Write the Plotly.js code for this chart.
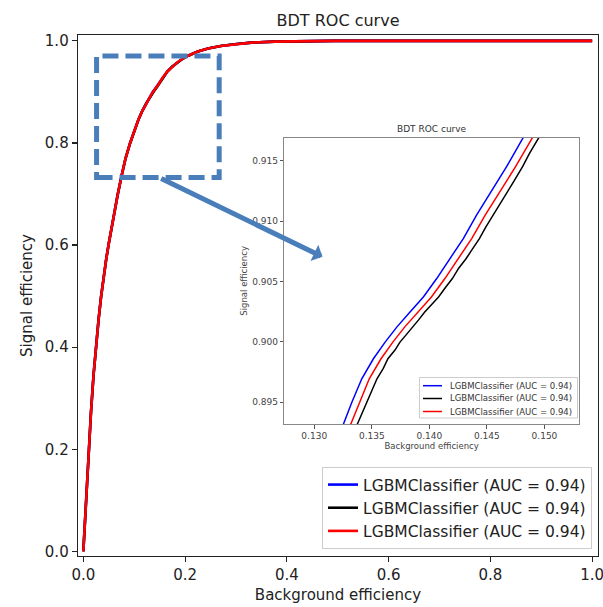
<!DOCTYPE html>
<html>
<head>
<meta charset="utf-8">
<script src="https://cdn.plot.ly/plotly-3.0.1.min.js"></script>
<style>html,body{margin:0;padding:0;background:#fff;}#chart{width:603px;height:607px;}</style>
</head>
<body>
<div id="chart"></div>
<script>
// ---- data ----
const seriesNames = ["LGBMClassifier (AUC = 0.94)", "LGBMClassifier (AUC = 0.94)", "LGBMClassifier (AUC = 0.94)"];
const seriesColors = ["#0000ff", "#000000", "#ff0000"];

// shared low part of the ROC curve (background efficiency, signal efficiency)
const headX = [0, 0.0025, 0.005, 0.0075, 0.010, 0.015, 0.020, 0.025, 0.030, 0.035, 0.040, 0.045, 0.050, 0.055, 0.060, 0.067, 0.075, 0.083, 0.092, 0.100, 0.108, 0.116, 0.124];
const headY = [0, 0.050, 0.100, 0.147, 0.192, 0.272, 0.345, 0.403, 0.455, 0.500, 0.540, 0.573, 0.603, 0.632, 0.658, 0.696, 0.735, 0.770, 0.800, 0.824, 0.845, 0.863, 0.8785];
// shared high part of the ROC curve
const tailX = [0.155, 0.165, 0.175, 0.185, 0.195, 0.206, 0.225, 0.245, 0.270, 0.297, 0.330, 0.376, 0.430, 0.493, 0.600, 0.800, 1.000];
const tailY = [0.927, 0.940, 0.950, 0.958, 0.965, 0.971, 0.979, 0.985, 0.990, 0.9935, 0.9965, 0.9985, 0.9995, 1.000, 1.000, 1.000, 1.000];

// zoomed segment for each classifier
const blueZoomX = [0.13254, 0.13327, 0.13413, 0.13514, 0.13616, 0.13717, 0.13832, 0.13948, 0.14064, 0.14179, 0.14295, 0.14410, 0.14526, 0.14671, 0.14815];
const blueZoomY = [0.89320, 0.89500, 0.89694, 0.89860, 0.89998, 0.90122, 0.90247, 0.90371, 0.90524, 0.90690, 0.90855, 0.91049, 0.91229, 0.91450, 0.91691];
const blackZoomX = [0.13375, 0.13420, 0.13455, 0.13500, 0.13545, 0.13600, 0.13640, 0.13700, 0.13745, 0.13800, 0.13850, 0.13905, 0.13960, 0.14020, 0.14080, 0.14140, 0.14200, 0.14255, 0.14320, 0.14375, 0.14435, 0.14490, 0.14555, 0.14610, 0.14670, 0.14735, 0.14810, 0.14870, 0.14951];
const blackZoomY = [0.89320, 0.89420, 0.89500, 0.89600, 0.89694, 0.89780, 0.89860, 0.89930, 0.89998, 0.90060, 0.90122, 0.90180, 0.90247, 0.90310, 0.90371, 0.90450, 0.90524, 0.90610, 0.90690, 0.90770, 0.90855, 0.90950, 0.91049, 0.91140, 0.91229, 0.91330, 0.91450, 0.91560, 0.91691];
const redZoomX = [0.13318, 0.13392, 0.13478, 0.13580, 0.13683, 0.13785, 0.13901, 0.14018, 0.14135, 0.14251, 0.14368, 0.14485, 0.14602, 0.14749, 0.14896];
const redZoomY = [0.89320, 0.89500, 0.89694, 0.89860, 0.89998, 0.90122, 0.90247, 0.90371, 0.90524, 0.90690, 0.90855, 0.91049, 0.91229, 0.91450, 0.91691];

const mainTicks = [0, 0.2, 0.4, 0.6, 0.8, 1.0];
const insetXTicks = [0.130, 0.135, 0.140, 0.145, 0.150];
const insetYTicks = [0.895, 0.900, 0.905, 0.910, 0.915];

// zoom box and arrow (in main-axis data units)
const zoomBox = {x0: 0.026, x1: 0.267, y0: 0.7323, y1: 0.9706};
const arrowFrom = [0.150, 0.7317];
const arrowTo = [0.470, 0.577];

// ---- build ----
const zoomX = [blueZoomX, blackZoomX, redZoomX];
const zoomY = [blueZoomY, blackZoomY, redZoomY];
const fullX = zoomX.map(z => headX.concat(z, tailX));
const fullY = zoomY.map(z => headY.concat(z, tailY));

const FONT = "DejaVu Sans, sans-serif";
const traces = [];
for (let i = 0; i < 3; i++) {
  traces.push({x: fullX[i], y: fullY[i], type: "scatter", mode: "lines",
    name: seriesNames[i], line: {color: seriesColors[i], width: 2.6},
    xaxis: "x", yaxis: "y", legend: "legend", hoverinfo: "skip"});
}
for (let i = 0; i < 3; i++) {
  traces.push({x: fullX[i], y: fullY[i], type: "scatter", mode: "lines",
    name: seriesNames[i], line: {color: seriesColors[i], width: 1.5},
    xaxis: "x2", yaxis: "y2", showlegend: false, hoverinfo: "skip"});
}

const W = 603, H = 607;
const L = 78, R = 5, T = 35, B = 51;
const pw = W - L - R, ph = H - T - B;
const px = v => (v - L) / pw;
const py = v => (H - B - v) / ph;

const shapes = [{type: "rect", xref: "x", yref: "y", x0: zoomBox.x0, x1: zoomBox.x1, y0: zoomBox.y0, y1: zoomBox.y1,
  line: {color: "#4a7ebb", width: 5, dash: "16px,7px"}, fillcolor: "rgba(0,0,0,0)"}];
const annotations = [
  {xref: "x", yref: "y", axref: "x", ayref: "y", x: arrowTo[0], y: arrowTo[1], ax: arrowFrom[0], ay: arrowFrom[1],
    text: "", showarrow: true, arrowhead: 1, arrowsize: 0.6, arrowwidth: 5, arrowcolor: "#4a7ebb", standoff: 0},
  {xref: "paper", yref: "paper", x: (px(284.3) + px(579)) / 2, y: py(129), text: "BDT ROC curve",
    showarrow: false, font: {size: 9, family: FONT, color: "#333"}, xanchor: "center", yanchor: "middle"}
];

// inset legend (compact, matplotlib-like)
shapes.push({type: "rect", xref: "paper", yref: "paper", x0: px(419.5), x1: px(577.5), y0: py(418), y1: py(377.5),
  line: {color: "#cccccc", width: 1}, fillcolor: "rgba(255,255,255,0.85)", layer: "above"});
const rowY = [385.7, 398.5, 411.5];
for (let i = 0; i < 3; i++) {
  shapes.push({type: "line", xref: "paper", yref: "paper", x0: px(423), x1: px(442), y0: py(rowY[i]), y1: py(rowY[i]),
    line: {color: seriesColors[i], width: 1.5}, layer: "above"});
  annotations.push({xref: "paper", yref: "paper", x: px(447.5), y: py(rowY[i]), text: seriesNames[i],
    showarrow: false, xanchor: "left", yanchor: "middle", font: {size: 8.5, family: FONT, color: "#333"}});
}

const layout = {
  width: W, height: H,
  margin: {l: L, r: R, t: T, b: B, pad: 0},
  paper_bgcolor: "#ffffff", plot_bgcolor: "#ffffff",
  font: {family: FONT, color: "#222222"},
  title: {text: "BDT ROC curve", font: {family: FONT, size: 16, color: "#222222"},
    x: 0.5, xref: "paper", y: 1 - 20 / H, yref: "container", yanchor: "middle"},
  showlegend: true,
  xaxis: {domain: [0, 1], range: [-0.0105, 1.0115], tickvals: mainTicks, tickformat: ".1f",
    ticks: "outside", ticklen: 5, tickwidth: 1.2, tickcolor: "#222", ticklabeloverflow: "allow",
    showline: true, mirror: true, linecolor: "#222", linewidth: 1.3,
    showgrid: false, zeroline: false, tickfont: {size: 15, family: FONT, color: "#222"},
    title: {text: "Background efficiency", font: {size: 15, family: FONT, color: "#222"}, standoff: 6}},
  yaxis: {domain: [0, 1], range: [-0.009, 1.0115], tickvals: mainTicks, tickformat: ".1f",
    ticks: "outside", ticklen: 5, tickwidth: 1.2, tickcolor: "#222",
    showline: true, mirror: true, linecolor: "#222", linewidth: 1.3,
    showgrid: false, zeroline: false, tickfont: {size: 15, family: FONT, color: "#222"},
    title: {text: "Signal efficiency", font: {size: 15, family: FONT, color: "#222"}, standoff: 8}},
  xaxis2: {domain: [px(284.3), px(579)], anchor: "y2", range: [0.1274, 0.1530],
    tickvals: insetXTicks, tickformat: ".3f",
    ticks: "outside", ticklen: 3.5, tickwidth: 1, tickcolor: "#555",
    showline: true, mirror: true, linecolor: "#888", linewidth: 1,
    showgrid: false, zeroline: false, tickfont: {size: 9, family: FONT, color: "#444"},
    title: {text: "Background efficiency", font: {size: 8.5, family: FONT, color: "#444"}, standoff: 2}},
  yaxis2: {domain: [py(424), py(137.7)], anchor: "x2", range: [0.8932, 0.9169],
    tickvals: insetYTicks, tickformat: ".3f",
    ticks: "outside", ticklen: 3.5, tickwidth: 1, tickcolor: "#555",
    showline: true, mirror: true, linecolor: "#888", linewidth: 1,
    showgrid: false, zeroline: false, tickfont: {size: 9, family: FONT, color: "#444"},
    title: {text: "Signal efficiency", font: {size: 8.5, family: FONT, color: "#444"}, standoff: 3}},
  legend: {x: px(592), xanchor: "right", y: py(549), yanchor: "bottom",
    bgcolor: "rgba(255,255,255,0.85)", bordercolor: "#cccccc", borderwidth: 1,
    font: {size: 15.5, family: FONT, color: "#222"}, tracegroupgap: 0},
  shapes: shapes,
  annotations: annotations
};

Plotly.newPlot("chart", traces, layout, {displayModeBar: false, staticPlot: true});
</script>
</body>
</html>
